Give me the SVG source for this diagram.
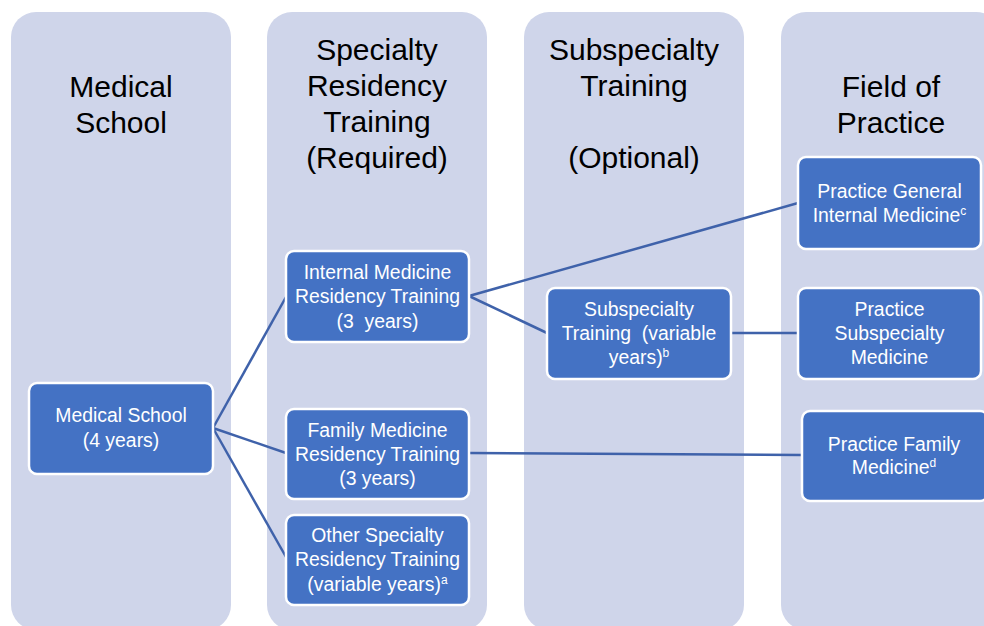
<svg xmlns="http://www.w3.org/2000/svg" width="984" height="626" viewBox="0 0 984 626">
  <style>
    .col { fill: #CFD5EA; }
    .head { font-family: "Liberation Sans", Arial, sans-serif; font-size: 30px; fill: #000; text-anchor: middle; }
    .box { fill: #4472C4; stroke: #FFFFFF; stroke-width: 2.5; }
    .lbl { font-family: "Liberation Sans", Arial, sans-serif; font-size: 19.4px; fill: #FFFFFF; text-anchor: middle; }
    .sup { font-size: 12px; }
    .link { stroke: #3F62AA; stroke-width: 2.5; fill: none; }
  </style>

  <rect width="984" height="626" fill="#FFFFFF"/>

  <!-- stage columns -->
  <g id="col-medical-school">
    <rect class="col" x="11" y="12" width="220" height="618" rx="25"/>
    <text class="head" x="121" y="97">Medical</text>
    <text class="head" x="121" y="133">School</text>
  </g>
  <g id="col-specialty">
    <rect class="col" x="267" y="12" width="220" height="618" rx="25"/>
    <text class="head" x="377" y="60">Specialty</text>
    <text class="head" x="377" y="96">Residency</text>
    <text class="head" x="377" y="132">Training</text>
    <text class="head" x="377" y="168">(Required)</text>
  </g>
  <g id="col-subspecialty">
    <rect class="col" x="524" y="12" width="220" height="618" rx="25"/>
    <text class="head" x="634" y="60">Subspecialty</text>
    <text class="head" x="634" y="96">Training</text>
    <text class="head" x="634" y="168">(Optional)</text>
  </g>
  <g id="col-practice">
    <rect class="col" x="781" y="12" width="220" height="618" rx="25"/>
    <text class="head" x="891" y="97">Field of</text>
    <text class="head" x="891" y="133">Practice</text>
  </g>

  <!-- connectors -->
  <g id="connectors">
    <line class="link" x1="213" y1="428" x2="286" y2="297"/>
    <line class="link" x1="213" y1="428" x2="286" y2="453"/>
    <line class="link" x1="213" y1="428" x2="286" y2="557"/>
    <line class="link" x1="469" y1="296" x2="798" y2="203"/>
    <line class="link" x1="469" y1="296" x2="547" y2="333"/>
    <line class="link" x1="731" y1="333" x2="798" y2="333"/>
    <line class="link" x1="469" y1="453" x2="802" y2="455"/>
  </g>

  <!-- nodes -->
  <g id="node-medical-school">
    <rect class="box" x="29" y="383" width="184" height="91" rx="8"/>
    <text class="lbl" x="121" y="422">Medical School</text>
    <text class="lbl" x="121" y="447">(4 years)</text>
  </g>
  <g id="node-internal-medicine">
    <rect class="box" x="286" y="251" width="183" height="91" rx="8"/>
    <text class="lbl" x="377.5" y="279">Internal Medicine</text>
    <text class="lbl" x="377.5" y="303">Residency Training</text>
    <text class="lbl" x="377.5" y="328" xml:space="preserve">(3  years)</text>
  </g>
  <g id="node-family-medicine">
    <rect class="box" x="286" y="409" width="183" height="90" rx="8"/>
    <text class="lbl" x="377.5" y="437">Family Medicine</text>
    <text class="lbl" x="377.5" y="461">Residency Training</text>
    <text class="lbl" x="377.5" y="485">(3 years)</text>
  </g>
  <g id="node-other-specialty">
    <rect class="box" x="286" y="515" width="183" height="90" rx="8"/>
    <text class="lbl" x="377.5" y="542">Other Specialty</text>
    <text class="lbl" x="377.5" y="566">Residency Training</text>
    <text class="lbl" x="377.5" y="591">(variable years)<tspan class="sup" dy="-7">a</tspan></text>
  </g>
  <g id="node-subspecialty-training">
    <rect class="box" x="547" y="288" width="184" height="91" rx="8"/>
    <text class="lbl" x="639" y="316">Subspecialty</text>
    <text class="lbl" x="639" y="340" xml:space="preserve">Training  (variable</text>
    <text class="lbl" x="639" y="364">years)<tspan class="sup" dy="-7">b</tspan></text>
  </g>
  <g id="node-general-internal">
    <rect class="box" x="798" y="157" width="183" height="92" rx="8"/>
    <text class="lbl" x="889.5" y="198">Practice General</text>
    <text class="lbl" x="889.5" y="222">Internal Medicine<tspan class="sup" dy="-7">c</tspan></text>
  </g>
  <g id="node-subspecialty-medicine">
    <rect class="box" x="798" y="288" width="183" height="91" rx="8"/>
    <text class="lbl" x="889.5" y="316">Practice</text>
    <text class="lbl" x="889.5" y="340">Subspecialty</text>
    <text class="lbl" x="889.5" y="364">Medicine</text>
  </g>
  <g id="node-family-practice">
    <rect class="box" x="802" y="411" width="186" height="90" rx="8"/>
    <text class="lbl" x="894" y="451">Practice Family</text>
    <text class="lbl" x="894" y="474">Medicine<tspan class="sup" dy="-7">d</tspan></text>
  </g>
</svg>
